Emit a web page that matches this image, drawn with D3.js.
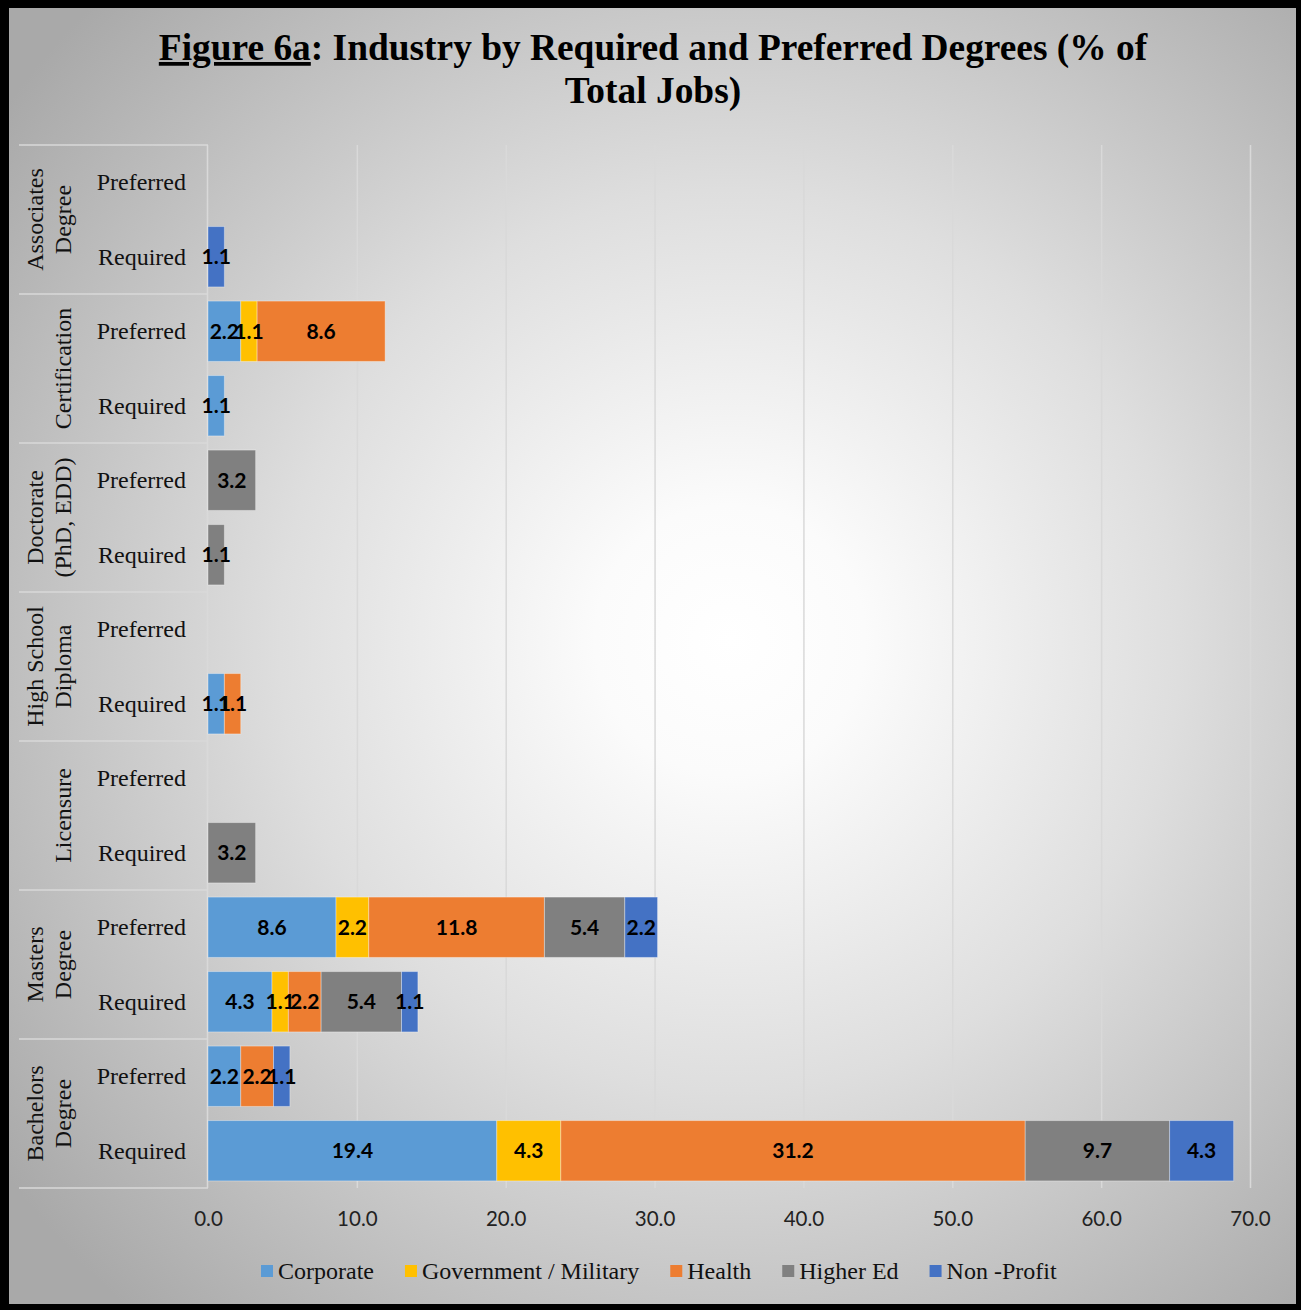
<!DOCTYPE html>
<html>
<head>
<meta charset="utf-8">
<script src="https://cdn.jsdelivr.net/npm/d3@7"></script>
<style>
  html, body { margin: 0; padding: 0; background: #000; }
  svg { display: block; }
</style>
</head>
<body>
<svg id="chart" width="1301" height="1310"></svg>
<script>
// Degree groups, top to bottom, with their label lines
const groups = [
  { name: "Associates Degree", lines: ["Associates", "Degree"] },
  { name: "Certification", lines: ["Certification"] },
  { name: "Doctorate (PhD, EDD)", lines: ["Doctorate", "(PhD, EDD)"] },
  { name: "High School Diploma", lines: ["High School", "Diploma"] },
  { name: "Licensure", lines: ["Licensure"] },
  { name: "Masters Degree", lines: ["Masters", "Degree"] },
  { name: "Bachelors Degree", lines: ["Bachelors", "Degree"] }
];
const levels = ["Preferred", "Required"];

const industries = ["Corporate", "Government / Military", "Health", "Higher Ed", "Non -Profit"];
const colors = ["#5B9BD5", "#FFC000", "#ED7D31", "#808080", "#4472C4"];

// % of total jobs per industry, one array per group/level row (same order as industries)
const associatesPreferred    = [0, 0, 0, 0, 0];
const associatesRequired     = [0, 0, 0, 0, 1.1];
const certificationPreferred = [2.2, 1.1, 8.6, 0, 0];
const certificationRequired  = [1.1, 0, 0, 0, 0];
const doctoratePreferred     = [0, 0, 0, 3.2, 0];
const doctorateRequired      = [0, 0, 0, 1.1, 0];
const highSchoolPreferred    = [0, 0, 0, 0, 0];
const highSchoolRequired     = [1.1, 0, 1.1, 0, 0];
const licensurePreferred     = [0, 0, 0, 0, 0];
const licensureRequired      = [0, 0, 0, 3.2, 0];
const mastersPreferred       = [8.6, 2.2, 11.8, 5.4, 2.2];
const mastersRequired        = [4.3, 1.1, 2.2, 5.4, 1.1];
const bachelorsPreferred     = [2.2, 0, 2.2, 0, 1.1];
const bachelorsRequired      = [19.4, 4.3, 31.2, 9.7, 4.3];

const xTicks = [0, 10, 20, 30, 40, 50, 60, 70];

const rowValues = [
  associatesPreferred, associatesRequired,
  certificationPreferred, certificationRequired,
  doctoratePreferred, doctorateRequired,
  highSchoolPreferred, highSchoolRequired,
  licensurePreferred, licensureRequired,
  mastersPreferred, mastersRequired,
  bachelorsPreferred, bachelorsRequired
];

// Build one record per row, keyed by group + level
const rows = [];
groups.forEach((g, gi) => {
  levels.forEach((lv, li) => {
    const vals = rowValues[gi * 2 + li];
    const rec = { key: g.name + "|" + lv, group: g.name, level: lv };
    industries.forEach((ind, k) => { rec[ind] = vals[k]; });
    rows.push(rec);
  });
});

const W = 1301, H = 1310;
const svg = d3.select("#chart");
const defs = svg.append("defs");

// Frame and radial background
const grad = defs.append("radialGradient")
  .attr("id", "bg")
  .attr("gradientUnits", "userSpaceOnUse")
  .attr("cx", 730).attr("cy", 640).attr("r", 900)
  .attr("fx", 730).attr("fy", 640);
grad.append("stop").attr("offset", "0").attr("stop-color", "#ffffff");
grad.append("stop").attr("offset", "0.15").attr("stop-color", "#fbfbfb");
grad.append("stop").attr("offset", "0.5").attr("stop-color", "#dedede");
grad.append("stop").attr("offset", "1").attr("stop-color", "#a9a9a9");

svg.append("rect").attr("x", 0).attr("y", 0).attr("width", W).attr("height", H).attr("fill", "#000");
svg.append("rect").attr("x", 9).attr("y", 8).attr("width", 1287).attr("height", 1296).attr("fill", "url(#bg)");

// Scales
const plotTop = 145, plotBottom = 1188, plotLeft = 208, plotRight = 1250;
const x = d3.scaleLinear().domain([0, 70]).range([plotLeft, plotRight]);
const y = d3.scaleBand().domain(rows.map(r => r.key)).range([plotTop, plotBottom])
  .paddingInner(0.19).paddingOuter(0.095);
const color = d3.scaleOrdinal().domain(industries).range(colors);

const lineColor = "#d9d9d9";

// Vertical gridlines and value axis labels
const xAxis = d3.axisBottom(x).tickValues(xTicks).tickFormat(d3.format(".1f"))
  .tickSize(-(plotBottom - plotTop)).tickPadding(23);
const gx = svg.append("g").attr("transform", `translate(0,${plotBottom})`).call(xAxis);
gx.select(".domain").remove();
gx.selectAll(".tick line").attr("stroke", lineColor).attr("stroke-width", 1.5)
  .filter(d => d === 0).remove();
gx.selectAll(".tick text")
  .attr("font-family", "Lato, 'Open Sans', sans-serif")
  .attr("font-size", 20.5).attr("fill", "#222");

// Category table lines (multi-level axis)
const tableLeft = 19;
svg.append("line")
  .attr("x1", plotLeft - 0.5).attr("x2", plotLeft - 0.5)
  .attr("y1", plotTop).attr("y2", plotBottom)
  .attr("stroke", lineColor).attr("stroke-width", 1.5);
const groupEdges = d3.range(groups.length + 1).map(i => plotTop + i * 2 * y.step());
svg.append("g").selectAll("line").data(groupEdges).join("line")
  .attr("x1", tableLeft).attr("x2", plotLeft)
  .attr("y1", d => d).attr("y2", d => d)
  .attr("stroke", lineColor).attr("stroke-width", 1.5);

// Stacked bars
const stack = d3.stack().keys(industries);
const series = stack(rows);
const barG = svg.append("g");
series.forEach(s => {
  const ind = s.key;
  const segs = s.filter(d => d[1] - d[0] > 0);
  barG.append("g").selectAll("rect").data(segs).join("rect")
    .attr("x", d => x(d[0]))
    .attr("y", d => y(d.data.key))
    .attr("width", d => x(d[1]) - x(d[0]))
    .attr("height", y.bandwidth())
    .attr("fill", color(ind))
    .attr("stroke", "rgba(255,255,255,0.35)")
    .attr("stroke-width", 1);
});

// Value labels centred on each segment
const labelG = svg.append("g");
series.forEach(s => {
  const segs = s.filter(d => d[1] - d[0] > 0);
  labelG.append("g").selectAll("text").data(segs).join("text")
    .attr("x", d => (x(d[0]) + x(d[1])) / 2)
    .attr("y", d => y(d.data.key) + y.bandwidth() / 2 + 7.5)
    .attr("text-anchor", "middle")
    .attr("font-family", "Lato, 'Open Sans', sans-serif")
    .attr("font-weight", "bold")
    .attr("font-size", 21)
    .attr("fill", "#000")
    .text(d => d3.format(".1f")(d.data[s.key]));
});

// Level labels (Preferred / Required)
svg.append("g").selectAll("text").data(rows).join("text")
  .attr("x", 186)
  .attr("y", d => y(d.key) + y.bandwidth() / 2 + 8)
  .attr("text-anchor", "end")
  .attr("font-family", "'Liberation Serif', 'Times New Roman', serif")
  .attr("font-size", 24)
  .attr("fill", "#111")
  .text(d => d.level);

// Group labels, rotated
const gLab = svg.append("g");
groups.forEach((g, gi) => {
  const cy = plotTop + (gi * 2 + 1) * y.step();
  const baselines = g.lines.length === 2 ? [43, 71] : [71];
  g.lines.forEach((ln, li) => {
    gLab.append("text")
      .attr("transform", `translate(${baselines[li]},${cy}) rotate(-90)`)
      .attr("text-anchor", "middle")
      .attr("font-family", "'Liberation Serif', 'Times New Roman', serif")
      .attr("font-size", 24)
      .attr("fill", "#111")
      .text(ln);
  });
});

// Title
const title = svg.append("text")
  .attr("x", 653).attr("y", 60)
  .attr("text-anchor", "middle")
  .attr("font-family", "'Liberation Serif', 'Times New Roman', serif")
  .attr("font-weight", "bold")
  .attr("font-size", 37.4)
  .attr("fill", "#000");
title.append("tspan").attr("text-decoration", "underline").text("Figure 6a");
title.append("tspan").text(": Industry by Required and Preferred Degrees (% of");
svg.append("text")
  .attr("x", 653).attr("y", 103)
  .attr("text-anchor", "middle")
  .attr("font-family", "'Liberation Serif', 'Times New Roman', serif")
  .attr("font-weight", "bold")
  .attr("font-size", 37.4)
  .attr("fill", "#000")
  .text("Total Jobs)");

// Legend
const legend = svg.append("g");
let lx = 261;
industries.forEach((ind, i) => {
  legend.append("rect")
    .attr("x", lx).attr("y", 1265).attr("width", 12).attr("height", 12)
    .attr("fill", color(ind));
  const t = legend.append("text")
    .attr("x", lx + 17).attr("y", 1279)
    .attr("font-family", "'Liberation Serif', 'Times New Roman', serif")
    .attr("font-size", 24)
    .attr("fill", "#111")
    .text(ind);
  lx += 17 + t.node().getComputedTextLength() + 31;
});
</script>
</body>
</html>
